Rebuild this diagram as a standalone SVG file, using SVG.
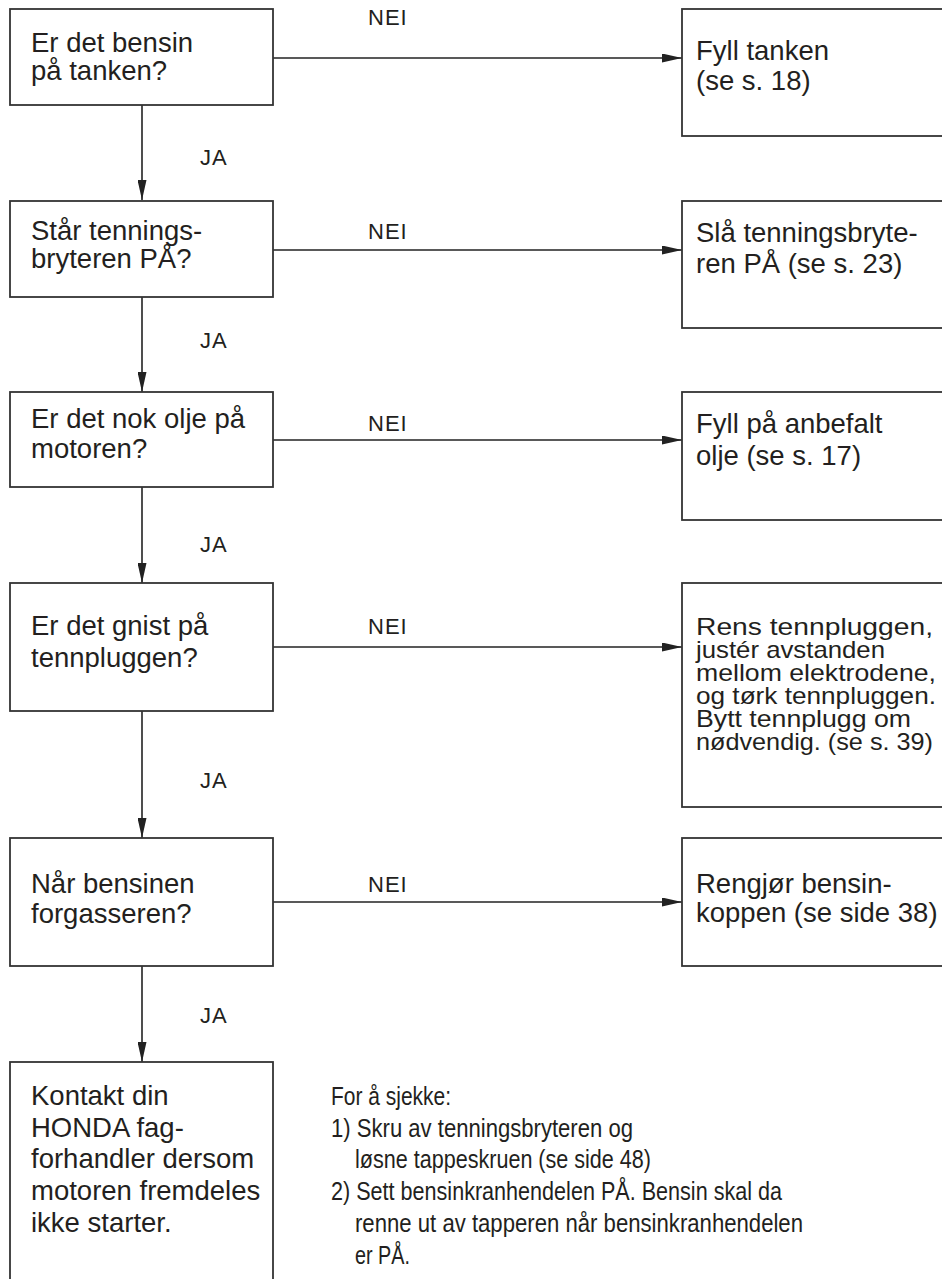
<svg xmlns="http://www.w3.org/2000/svg" width="942" height="1279" viewBox="0 0 942 1279">
<style>
  .box{fill:#fff;stroke:#333;stroke-width:1.8}
  .t{font-family:"Liberation Sans",Arial,sans-serif;font-size:27.5px;fill:#231f20}
  .t4{font-family:"Liberation Sans",Arial,sans-serif;font-size:24px;fill:#231f20}
  .lbl{font-family:"Liberation Sans",Arial,sans-serif;font-size:22px;fill:#231f20;letter-spacing:1px}
  .note{font-family:"Liberation Sans",Arial,sans-serif;font-size:25.5px;fill:#231f20}
  .c{stroke:#222;stroke-width:1.6;fill:none;marker-end:url(#ah)}
</style>
<defs>
  <marker id="ah" viewBox="0 0 20 9" refX="20" refY="4.5" markerWidth="20" markerHeight="9" markerUnits="userSpaceOnUse" orient="auto">
    <path d="M0,0 L20,4.5 L0,9 z" fill="#222"/>
  </marker>
</defs>
<rect width="942" height="1279" fill="#fff"/>

<g id="connectors">
  <line class="c" x1="142" y1="105" x2="142" y2="200"/>
  <line class="c" x1="142" y1="297" x2="142" y2="392"/>
  <line class="c" x1="142" y1="487" x2="142" y2="583"/>
  <line class="c" x1="142" y1="711" x2="142" y2="838"/>
  <line class="c" x1="142" y1="966" x2="142" y2="1062"/>
  <line class="c" x1="273" y1="58" x2="682" y2="58"/>
  <line class="c" x1="273" y1="250" x2="682" y2="250"/>
  <line class="c" x1="273" y1="440" x2="682" y2="440"/>
  <line class="c" x1="273" y1="647" x2="682" y2="647"/>
  <line class="c" x1="273" y1="902" x2="682" y2="902"/>
  <text class="lbl" x="200" y="165">JA</text>
  <text class="lbl" x="200" y="348">JA</text>
  <text class="lbl" x="200" y="552">JA</text>
  <text class="lbl" x="200" y="788">JA</text>
  <text class="lbl" x="200" y="1023">JA</text>
  <text class="lbl" x="368" y="25">NEI</text>
  <text class="lbl" x="368" y="239">NEI</text>
  <text class="lbl" x="368" y="431">NEI</text>
  <text class="lbl" x="368" y="634">NEI</text>
  <text class="lbl" x="368" y="892">NEI</text>
</g>

<g id="q1">
  <rect class="box" x="10" y="9" width="263" height="96"/>
  <text class="t" x="31" y="52">Er det bensin</text>
  <text class="t" x="31" y="80">på tanken?</text>
</g>
<g id="q2">
  <rect class="box" x="10" y="201" width="263" height="96"/>
  <text class="t" x="31" y="240">Står tennings-</text>
  <text class="t" x="31" y="268">bryteren PÅ?</text>
</g>
<g id="q3">
  <rect class="box" x="10" y="392" width="263" height="95"/>
  <text class="t" x="31" y="428">Er det nok olje på</text>
  <text class="t" x="31" y="458">motoren?</text>
</g>
<g id="q4">
  <rect class="box" x="10" y="583" width="263" height="128"/>
  <text class="t" x="31" y="635">Er det gnist på</text>
  <text class="t" x="31" y="667">tennpluggen?</text>
</g>
<g id="q5">
  <rect class="box" x="10" y="838" width="263" height="128"/>
  <text class="t" x="31" y="893">Når bensinen</text>
  <text class="t" x="31" y="923">forgasseren?</text>
</g>
<g id="end">
  <rect class="box" x="10" y="1062" width="263" height="240"/>
  <text class="t" x="31" y="1105">Kontakt din</text>
  <text class="t" x="31" y="1137">HONDA fag-</text>
  <text class="t" x="31" y="1168">forhandler dersom</text>
  <text class="t" x="31" y="1200">motoren fremdeles</text>
  <text class="t" x="31" y="1232">ikke starter.</text>
</g>

<g id="a1">
  <rect class="box" x="682" y="9" width="280" height="127"/>
  <text class="t" x="696" y="60">Fyll tanken</text>
  <text class="t" x="696" y="90">(se s. 18)</text>
</g>
<g id="a2">
  <rect class="box" x="682" y="201" width="280" height="127"/>
  <text class="t" x="696" y="242">Slå tenningsbryte-</text>
  <text class="t" x="696" y="273">ren PÅ (se s. 23)</text>
</g>
<g id="a3">
  <rect class="box" x="682" y="392" width="280" height="128"/>
  <text class="t" x="696" y="433">Fyll på anbefalt</text>
  <text class="t" x="696" y="465">olje (se s. 17)</text>
</g>
<g id="a4">
  <rect class="box" x="682" y="583" width="280" height="224"/>
  <text class="t4" x="696" y="635" textLength="237" lengthAdjust="spacingAndGlyphs">Rens tennpluggen,</text>
  <text class="t4" x="696" y="658" textLength="189" lengthAdjust="spacingAndGlyphs">justér avstanden</text>
  <text class="t4" x="696" y="681" textLength="240" lengthAdjust="spacingAndGlyphs">mellom elektrodene,</text>
  <text class="t4" x="696" y="704" textLength="240" lengthAdjust="spacingAndGlyphs">og tørk tennpluggen.</text>
  <text class="t4" x="696" y="727" textLength="215" lengthAdjust="spacingAndGlyphs">Bytt tennplugg om</text>
  <text class="t4" x="696" y="750" textLength="237" lengthAdjust="spacingAndGlyphs">nødvendig. (se s. 39)</text>
</g>
<g id="a5">
  <rect class="box" x="682" y="838" width="280" height="128"/>
  <text class="t" x="696" y="893">Rengjør bensin-</text>
  <text class="t" x="696" y="922">koppen (se side 38)</text>
</g>

<g id="note">
  <text class="note" x="331" y="1105" textLength="120" lengthAdjust="spacingAndGlyphs">For å sjekke:</text>
  <text class="note" x="331" y="1137" textLength="302" lengthAdjust="spacingAndGlyphs">1) Skru av tenningsbryteren og</text>
  <text class="note" x="355" y="1168" textLength="296" lengthAdjust="spacingAndGlyphs">løsne tappeskruen (se side 48)</text>
  <text class="note" x="331" y="1200" textLength="451" lengthAdjust="spacingAndGlyphs">2) Sett bensinkranhendelen PÅ. Bensin skal da</text>
  <text class="note" x="355" y="1232" textLength="448" lengthAdjust="spacingAndGlyphs">renne ut av tapperen når bensinkranhendelen</text>
  <text class="note" x="355" y="1264" textLength="55" lengthAdjust="spacingAndGlyphs">er PÅ.</text>
</g>
</svg>
